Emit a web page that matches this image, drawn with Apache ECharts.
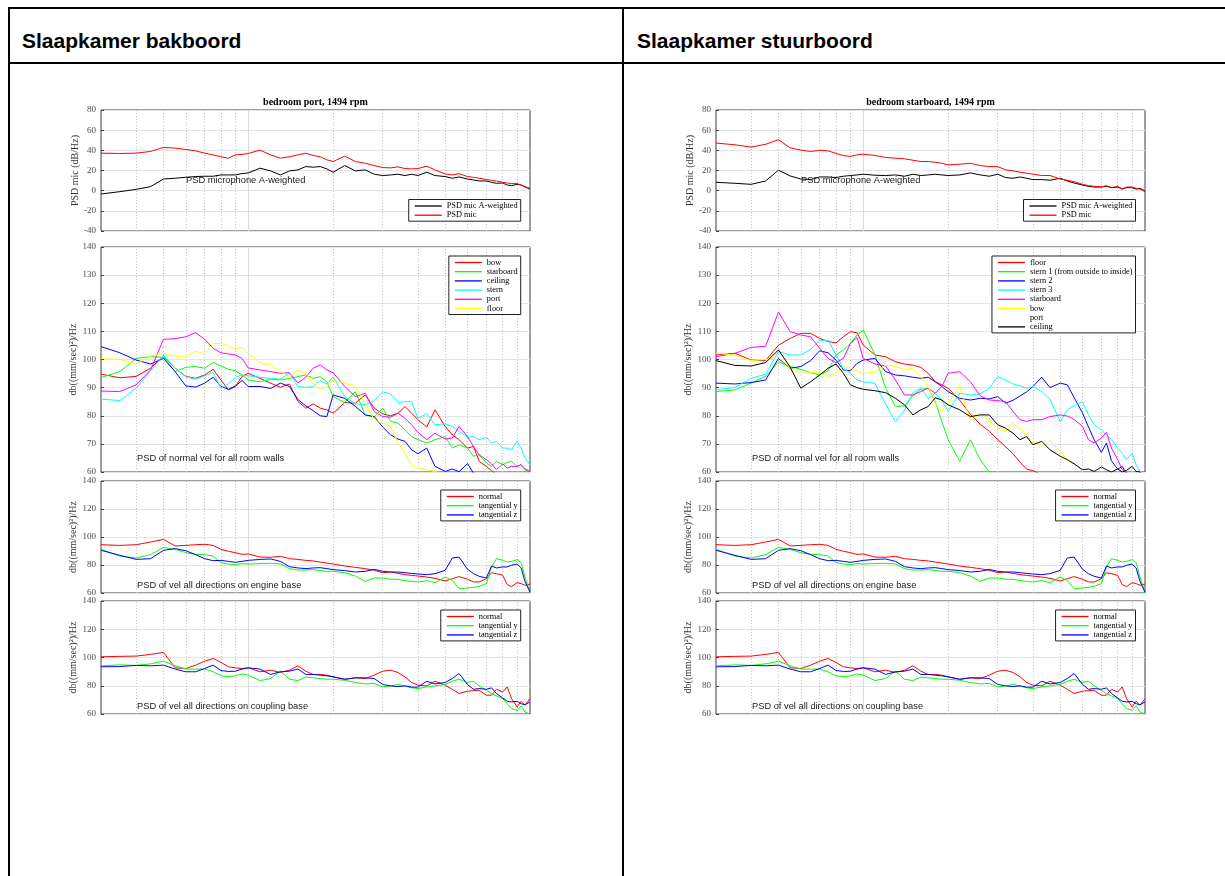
<!DOCTYPE html>
<html>
<head>
<meta charset="utf-8">
<title>Slaapkamer PSD</title>
<script src="https://cdn.jsdelivr.net/npm/echarts@6/dist/echarts.min.js"></script>
<style>
  body { margin: 0; background: #fff; }
  .page { position: relative; width: 1225px; height: 876px; overflow: hidden; background: #fff; }
  .rule { position: absolute; background: #000; }
  .head { position: absolute; font: bold 21px "Liberation Sans", Arial, sans-serif; color: #000; line-height: 24px; }
  #chart { position: absolute; left: 0; top: 0; width: 1225px; height: 876px; }
</style>
</head>
<body>
<div class="page">
  <div class="rule" style="left:8px;top:7px;width:1217px;height:2px"></div>
  <div class="rule" style="left:8px;top:62px;width:1217px;height:2px"></div>
  <div class="rule" style="left:8px;top:7px;width:2px;height:869px"></div>
  <div class="rule" style="left:622px;top:7px;width:2px;height:869px"></div>
  <div class="head" style="left:22px;top:29px">Slaapkamer bakboord</div>
  <div class="head" style="left:637px;top:29px">Slaapkamer stuurboord</div>
  <div id="chart"></div>
</div>
<script>
// frequencies the curves were read at (log x axis, 3 .. 100)
var freq = [3, 3.5, 4, 4.5, 5, 5.5, 6, 6.5, 7, 7.5, 8, 8.5, 9, 9.5, 10,
  11, 12, 13, 14, 15, 16, 17, 18, 19, 20,
  22, 24, 26, 28, 30, 32, 34, 36, 38, 40,
  43, 46, 50, 53, 56, 60, 63, 66, 70, 73, 76, 80, 83, 86, 90, 93, 96, 100];

// minor/major grid positions on the log axis
var gridFreq = [4, 5, 6, 7, 8, 9, 10, 20, 30, 40, 50, 60, 70, 80, 90];

// ---- bedroom port, microphone
var portMicA = [-3.3, -1, 1.3, 4, 11.6, 12.3, 13.3, 14, 14.3, 14.3, 15.6, 15.6, 15.6, 17, 17.6,
  22.3, 19.6, 15.6, 19.6, 20.6, 23.9, 23.3, 23.9, 21.6, 18.3,
  24.9, 19.6, 20.6, 16.3, 15, 15.6, 16.3, 15, 16.3, 15,
  18.3, 15, 14, 12.3, 13.6, 11.6, 10.6, 9.6, 9.6, 8.3, 7.3, 7.6, 5.6, 5, 6.3, 5.6, 3.6, 1.6];
var portMic = [37.2, 36.9, 37.2, 38.9, 42.9, 42.2, 40.9, 39.5, 37.2, 35.5, 33.6, 32.2, 35.5, 35.9, 36.9,
  40.2, 35.5, 32.2, 33.6, 35.5, 37.2, 34.9, 33.6, 30.6, 28.9,
  34.2, 28.9, 27.2, 24.9, 22.9, 22.6, 23.6, 21.9, 21.6, 21.9,
  24.3, 20.6, 16.6, 15.6, 16.9, 14, 13.3, 12.3, 11, 10.3, 9.6, 8.3, 7.6, 7, 7, 5.6, 4, 2.3];

// ---- bedroom starboard, microphone
var stbMicA = [8.3, 7.3, 6.3, 9.6, 20.3, 14.6, 11.6, 11, 13.6, 13.6, 13, 14.3, 15, 15.6, 16.3,
  15.3, 15, 15.6, 14.3, 16.3, 15, 15.6, 16.3, 15.6, 15,
  15.6, 17.6, 15.6, 14.3, 16.3, 13, 12.3, 13.6, 12.3, 11,
  11, 10.3, 12.3, 9.6, 7.6, 5.6, 4.3, 3.6, 3.6, 4.3, 3, 3.6, 1.6, 3, 3, 1.6, 2.3, -0.3];
var stbMic = [47.2, 45.5, 43.2, 46, 50.5, 42.5, 40.2, 38.9, 39.9, 39.5, 36.9, 34.9, 33.9, 35.5, 36.2,
  34.9, 32.9, 32.2, 31.6, 30.2, 28.9, 28.9, 28.2, 27.2, 25.6,
  26.2, 27.2, 24.9, 23.9, 23.9, 20.6, 19.6, 18.3, 17.3, 16.3,
  15, 15, 11.6, 10.3, 9, 6.3, 5, 4.3, 3.6, 5, 3, 4.3, 1.6, 3.6, 3.6, 2.3, 1.6, -1];

// ---- port room walls
var portBow = [94.8, 93.5, 94, 96.9, 101.3, 96.9, 94, 93.3, 94.5, 96.5, 92.7, 89.2, 90.4, 94, 95.1,
  93.3, 91.6, 90.1, 91.3, 85.1, 82.7, 84.2, 82.7, 82.1, 80.9,
  84.7, 84.5, 87.4, 82.7, 80.7, 80, 80.9, 83.3, 80.9, 78.6,
  76, 82.1, 76.2, 73.2, 71.5, 68.5, 69.1, 63.8, 62, 60.5, 59, 57, 56, 57, 56, 57, 56, 57];
var portStarboard = [93.6, 95.7, 100.4, 101, 100.8, 95.7, 97.2, 97.5, 96.9, 98.9, 97.7, 96.5, 96, 94.5, 92.7,
  92.1, 93, 92.7, 93.3, 93.9, 94.5, 93.3, 93.9, 92.1, 86.8,
  84.7, 88.6, 80.3, 79.5, 82.7, 78, 77.4, 75, 72.6, 71.5,
  70.3, 71.5, 72.6, 68.5, 69.7, 68.5, 65.6, 66.1, 63.2, 62, 63.8, 62.6, 63.4, 63.8, 62, 62.6, 60.8, 59.9];
var portCeiling = [104.6, 102.4, 99.8, 98.4, 100.4, 95.7, 90.6, 90.2, 91.6, 93.7, 90.4, 89.4, 90.6, 92.5, 90.4,
  90.4, 89.7, 91.6, 90.4, 85.8, 83.5, 81.8, 80, 79.7, 87.4,
  86.2, 83.3, 80.3, 79.7, 76, 73.2, 71.7, 70.9, 67.9, 66.5,
  68.5, 62, 60.2, 61.1, 60.1, 63, 59.6, 59, 58, 57, 58, 57, 56, 57, 56, 57, 56, 57];
var portStern = [85.9, 85.4, 89.8, 96, 101.5, 96.9, 93.9, 93, 94.2, 95.4, 89.8, 91.3, 93.7, 94.5, 94.2,
  93.7, 93.3, 93, 95.1, 90.4, 90.1, 90.4, 92.5, 91.3, 93.9,
  86.8, 84.2, 83.9, 85.4, 88.5, 87.8, 84.7, 85, 85, 79.1,
  80.7, 76.8, 77.1, 76.2, 74.4, 72.4, 72.6, 71.5, 72.4, 70.3, 70.9, 68.5, 68.5, 67.9, 70.9, 68.5, 65, 62.6];
var portPort = [88.8, 88.6, 91, 96.3, 107.2, 107.4, 108.1, 109.5, 107.2, 104, 102.4, 102, 101.6, 100.4, 97,
  96.3, 95.7, 95.1, 95.3, 91.6, 93.7, 96.9, 98.1, 96.3, 95.3,
  90.4, 86.8, 88, 81.5, 79.7, 79.5, 80.9, 79.1, 76.8, 74.1,
  71.5, 73.8, 71.7, 72.1, 76.2, 72.6, 69.1, 66.1, 64.4, 62.9, 60.8, 62.9, 61.4, 62, 62, 62.6, 61.1, 60.2];
var portFloor = [100.4, 100, 98.4, 101.2, 102.2, 101.2, 100.8, 102.9, 102, 105.7, 105.7, 104.8, 103.6, 104.3, 102.2,
  98.9, 98, 95.7, 93.9, 96.3, 95.1, 91, 89.4, 90.4, 92.7,
  91.6, 90.4, 84.5, 78.6, 77.4, 76.2, 70.3, 66.7, 62.2, 61.4,
  60.8, 60.2, 59, 58, 57, 56, 57, 56, 57, 56, 57, 56, 57, 56, 57, 56, 57, 56];

// ---- starboard room walls
var stbFloor = [101.6, 102.2, 99.8, 99.6, 105.1, 107.5, 109.3, 109.3, 107.5, 106.4, 105.9, 108.1, 109.9, 109.5, 105.1,
  101.6, 101, 99.2, 98.4, 98, 97.2, 95.1, 92.1, 91, 89.8,
  85.5, 80.5, 77, 74.5, 71.5, 69, 66.5, 63.5, 61, 60.5,
  59, 58, 57, 56, 57, 56, 57, 56, 57, 56, 57, 56, 57, 56, 57, 56, 57, 56];
var stbStern1 = [88.6, 89.2, 91.6, 94, 99.2, 97.5, 96.5, 95.3, 94.5, 96, 101.6, 103.4, 105.7, 108.7, 110.5,
  101.6, 89.8, 83.3, 83.5, 87.1, 89.4, 89.8, 85.1, 78, 71.5,
  63.8, 71.5, 64.4, 60, 57, 56, 57, 56, 57, 56,
  57, 56, 57, 56, 57, 56, 57, 56, 57, 56, 57, 56, 57, 56, 57, 56, 57, 56];
var stbStern2 = [91.6, 91.3, 91.8, 92.7, 100.4, 96.9, 97.5, 99.6, 103.1, 102.4, 99.8, 96.3, 96, 98.6, 99.8,
  100.4, 95.7, 94.5, 94.2, 93.7, 93.3, 93.7, 92.1, 90.4, 88.6,
  86.2, 85.6, 86.2, 86, 86.8, 84.5, 85.5, 87, 88.5, 90.4,
  93.7, 90, 91.6, 91, 86.5, 81, 76, 71.5, 67, 70.3, 64, 61, 62, 59.5, 57, 56, 57, 56];
var stbStern3 = [89.2, 90.1, 93.3, 94.8, 102.8, 101.6, 101.6, 103.6, 106.7, 106.9, 101.6, 96.9, 95.1, 92.7, 92.1,
  91.5, 84.2, 77.8, 82, 88.2, 89.8, 86.2, 88, 85.6, 81.5,
  88, 87.4, 87.8, 89.8, 93.9, 92.7, 91.3, 90.6, 89.8, 90.4,
  88.6, 85.9, 77.8, 82.1, 83.5, 85, 80.3, 76.8, 75, 73.2, 71.5, 68.5, 66.7, 64.4, 66.7, 62.6, 60.2, 57];
var stbStarboard = [101, 102.2, 104.3, 104.7, 116.9, 109.9, 108.7, 108.1, 104, 100.4, 98.9, 100.4, 105.7, 107.8, 100.4,
  98.4, 97.7, 92.7, 87.4, 87.4, 88.6, 89.8, 88, 90.4, 95.1,
  95.7, 92.1, 87.1, 85.6, 85.4, 85, 81.5, 78.6, 78, 78.6,
  78.6, 79.7, 80.3, 79.9, 78.7, 76.2, 71.5, 70.3, 72.1, 74.1, 68.5, 64.4, 60.8, 60, 57, 56, 57, 56];
var stbBow = [102.2, 101.6, 99.6, 100, 100.8, 96.9, 94.9, 95.3, 95.3, 93.9, 95.3, 97.5, 96.9, 96, 94.9,
  95.7, 98, 97.5, 96.5, 96.9, 93.9, 90.4, 84.5, 81.5, 84.5,
  90.4, 78.4, 80.9, 78, 75.6, 74.4, 77.4, 75.6, 73.2, 70.3,
  69.1, 71.1, 67.3, 64.4, 63.2, 60.2, 57, 56, 57, 56, 57, 56, 57, 56, 57, 56, 57, 56];
var stbCeiling = [99.6, 97.9, 97.7, 98.9, 103.4, 97.3, 89.8, 92.1, 94.5, 96.9, 98.4, 95.1, 91, 90, 89.4,
  88.9, 88.2, 86.2, 83.9, 80.3, 82.1, 83.3, 86.4, 85.6, 83.9,
  82.1, 79.7, 80.3, 80.3, 76.8, 75.6, 73.8, 71.5, 72.6, 69.7,
  70.9, 67.9, 65.6, 64.4, 62.9, 60.8, 61.1, 60.2, 61.8, 60.8, 60, 61.1, 60, 60.6, 62, 60.2, 60, 57];

// ---- engine base (same in both columns)
var engNormal = [94.5, 94, 94.5, 96.4, 98.3, 93.6, 94, 94.5, 94.8, 94, 91.2, 89.8, 88.8, 87.6, 87.9,
  85.7, 85.5, 86.2, 84.5, 84, 83.3, 82.9, 82.1, 81.4, 80.7,
  79.3, 78.3, 77.4, 76.2, 74.5, 75, 74, 73.1, 72.6, 72.1,
  71.4, 70.5, 68.6, 70.2, 71.7, 69.8, 67.9, 67.9, 70.2, 74.5, 73.8, 72.6, 66, 64.5, 67.4, 66.7, 65.5, 66.4];
var engTanY = [91.2, 86.4, 85, 87.4, 92.6, 91.2, 88.8, 87.6, 87.4, 86.4, 81.7, 80.7, 80.2, 81, 80.7,
  81, 81.2, 80.7, 77.4, 76.4, 76.4, 76.7, 76, 75.5, 75.5,
  74.5, 72.1, 68.3, 70.7, 70.7, 69.8, 69.8, 68.8, 68.3, 67.9,
  68.8, 67.4, 71.4, 69, 63.1, 63.6, 64, 64.8, 66.7, 78.6, 84.5, 83.3, 82.1, 82.6, 83.8, 81.7, 71.4, 60];
var engTanZ = [90.5, 86.9, 84, 84.5, 90.5, 91.7, 90.2, 87.4, 84.5, 83.1, 83.3, 82.6, 81.9, 82.6, 83.3,
  84, 84.3, 82.6, 78.8, 77.9, 77.4, 77.9, 78.1, 77.4, 76.7,
  76, 75, 75.5, 76.9, 75.5, 75, 75, 74.5, 74, 73.6,
  73.1, 73.8, 76.2, 85, 85.7, 76.9, 73.8, 71.9, 70.7, 79.3, 77.9, 78.6, 78.6, 79.8, 80.7, 77.9, 68.3, 60.7];

// ---- coupling base (same in both columns)
var cplNormal = [100.5, 100.8, 101, 102.2, 103.6, 92.7, 92.2, 94.6, 97.4, 99.3, 96.5, 93.4, 92.7, 92.2, 92.7,
  89.9, 91, 89.4, 91, 94.1, 90.3, 88, 88, 87.5, 86.3,
  84.6, 85.6, 85.1, 87.5, 90.3, 91, 89.4, 86.3, 82.3, 80.4,
  79.9, 83.2, 80.4, 77.5, 74.5, 76.1, 76.6, 76.8, 73.3, 73.3, 77.5, 75.6, 79.2, 70.9, 65, 69, 66.2, 70.9];
var cplTanY = [94.1, 94.8, 94.4, 95.5, 97.4, 94.1, 91.8, 91.8, 91.8, 89.9, 87, 86.5, 87, 88.4, 87.5,
  83.7, 85.1, 90.3, 84.6, 83.7, 86.1, 85.6, 85.1, 84.6, 84.6,
  83.9, 82.3, 81.3, 81.6, 79.2, 79.9, 80.9, 79.9, 78.5, 78,
  79.2, 79.9, 80.9, 83.2, 84.6, 82.3, 83.2, 79.9, 76.8, 74.5, 72.8, 70.9, 67.3, 63.8, 62.6, 65.7, 61.4, 60];
var cplTanZ = [93.4, 93.6, 94.4, 94.1, 94.6, 91.8, 89.9, 89.9, 92.2, 94.6, 90.8, 90.1, 90.3, 91.8, 92.7,
  91.8, 88, 89.9, 90.3, 91.8, 88, 88, 87.5, 87, 86.3,
  84.6, 85.6, 85.6, 85.1, 80.9, 79.9, 79.4, 79.9, 79, 79,
  83.2, 81.3, 82.3, 85.1, 88.7, 80.9, 77.5, 78, 77.5, 78.5, 74.5, 71.4, 69, 68.5, 69, 67.3, 66.6, 68.5];

var RED = '#ff0000', GREEN = '#00ff00', BLUE = '#0000ff', CYAN = '#00ffff',
    MAGENTA = '#ff00ff', YELLOW = '#ffff00', BLACK = '#000000';

// one entry per axes, left column first
var panels = [
  { col: 0, row: 0, title: 'bedroom port, 1494 rpm', note: 'PSD microphone A-weighted',
    lines: [['PSD mic A-weighted', BLACK, portMicA], ['PSD mic', RED, portMic]] },
  { col: 0, row: 1, note: 'PSD of normal vel for all room walls',
    lines: [['bow', RED, portBow], ['starboard', GREEN, portStarboard], ['ceiling', BLUE, portCeiling],
            ['stern', CYAN, portStern], ['port', MAGENTA, portPort], ['floor', YELLOW, portFloor]] },
  { col: 0, row: 2, note: 'PSD of vel all directions on engine base',
    lines: [['normal', RED, engNormal], ['tangential y', GREEN, engTanY], ['tangential z', BLUE, engTanZ]] },
  { col: 0, row: 3, note: 'PSD of vel all directions on coupling base',
    lines: [['normal', RED, cplNormal], ['tangential y', GREEN, cplTanY], ['tangential z', BLUE, cplTanZ]] },
  { col: 1, row: 0, title: 'bedroom starboard, 1494 rpm', note: 'PSD microphone A-weighted',
    lines: [['PSD mic A-weighted', BLACK, stbMicA], ['PSD mic', RED, stbMic]] },
  { col: 1, row: 1, note: 'PSD of normal vel for all room walls',
    lines: [['floor', RED, stbFloor], ['stern 1 (from outside to inside)', GREEN, stbStern1],
            ['stern 2', BLUE, stbStern2], ['stern 3', CYAN, stbStern3], ['starboard', MAGENTA, stbStarboard],
            ['bow', YELLOW, stbBow], ['port', 'rgba(0,0,0,0)', []], ['ceiling', BLACK, stbCeiling]] },
  { col: 1, row: 2, note: 'PSD of vel all directions on engine base',
    lines: [['normal', RED, engNormal], ['tangential y', GREEN, engTanY], ['tangential z', BLUE, engTanZ]] },
  { col: 1, row: 3, note: 'PSD of vel all directions on coupling base',
    lines: [['normal', RED, cplNormal], ['tangential y', GREEN, cplTanY], ['tangential z', BLUE, cplTanZ]] }
];

// layout
var colLeft = [101, 716];
var colWidth = 429;
var rowBox = [{ top: 110, height: 121 }, { top: 247, height: 225 }, { top: 481, height: 112 }, { top: 601, height: 113 }];
var rowAxis = [
  { min: -40, max: 80, interval: 20, name: 'PSD mic (dB/Hz)' },
  { min: 60, max: 140, interval: 10, name: 'db((mm/sec)\u00b2)/Hz' },
  { min: 60, max: 140, interval: 20, name: 'db((mm/sec)\u00b2)/Hz' },
  { min: 60, max: 140, interval: 20, name: 'db((mm/sec)\u00b2)/Hz' }
];
var legendRight = [520.7, 1135.5];
var legendTop = [199.5, 256, 490, 610];
var noteDx = [85, 36, 36, 36];
var noteY = [180.5, 458.3, 585.7, 706];

var SERIF = '"Liberation Serif", "Times New Roman", serif';
var SANS = '"Liberation Sans", Arial, sans-serif';

var grid = [], xAxis = [], yAxis = [], series = [], legend = [], texts = [];

panels.forEach(function (p, gi) {
  var box = rowBox[p.row], ax = rowAxis[p.row], left = colLeft[p.col];
  grid.push({ left: left, top: box.top, width: colWidth, height: box.height,
    show: true, borderColor: '#3c3c3c', borderWidth: 1 });

  xAxis.push({ type: 'log', logBase: 10, gridIndex: gi, min: 3, max: 100,
    axisLine: { show: false }, axisTick: { show: false }, axisLabel: { show: false }, splitLine: { show: false } });

  yAxis.push({ type: 'value', gridIndex: gi, position: 'left', min: ax.min, max: ax.max, interval: ax.interval,
    name: ax.name, nameLocation: 'middle', nameRotate: 90, nameGap: 21,
    nameTextStyle: { fontFamily: SERIF, fontSize: 10, color: '#333' },
    axisLine: { show: false },
    axisTick: { show: true, inside: true, length: 3, lineStyle: { color: '#444' } },
    axisLabel: { fontFamily: SERIF, fontSize: 9, color: '#4a4a4a', margin: 5 },
    splitLine: { show: true, lineStyle: { color: '#e4e4e4', width: 1 } } });

  // vertical log grid lines
  series.push({ type: 'line', name: 'grid#' + gi, xAxisIndex: gi, yAxisIndex: gi, data: [],
    silent: true, symbol: 'none', animation: false,
    markLine: { silent: true, symbol: ['none', 'none'], animation: false, z: 1,
      label: { show: false },
      lineStyle: { color: '#c4c4c4', type: [1, 2], width: 1 },
      emphasis: { disabled: true },
      data: gridFreq.map(function (f) {
        return f === 10 ? { xAxis: f, lineStyle: { type: 'solid', color: '#dadada' } } : { xAxis: f };
      }) } });

  var names = [];
  p.lines.forEach(function (l) {
    var name = l[0] + '#' + gi;
    names.push(name);
    series.push({ type: 'line', name: name, xAxisIndex: gi, yAxisIndex: gi,
      data: l[2].map(function (v, i) { return [freq[i], v]; }),
      symbol: 'none', clip: true, animation: false, z: 3,
      lineStyle: { color: l[1], width: 1 }, itemStyle: { color: l[1] },
      emphasis: { disabled: true } });
  });

  legend.push({ orient: 'vertical', right: 1225 - legendRight[p.col], top: legendTop[p.row],
    data: names, selectedMode: false, icon: 'rect',
    formatter: function (n) { return n.split('#')[0]; },
    backgroundColor: '#fff', borderColor: '#222', borderWidth: 1, borderRadius: 0,
    padding: [2.5, 3, 2, 6], itemGap: 1.2, itemWidth: 27, itemHeight: 1.3,
    textStyle: { fontFamily: SERIF, fontSize: 8.3, color: '#000' }, z: 10 });

  if (p.title) {
    texts.push({ type: 'text', x: left + colWidth / 2, y: 102.3, z: 20, silent: true,
      style: { text: p.title, fill: '#000', fontFamily: SERIF, fontWeight: 'bold', fontSize: 10,
        align: 'center', verticalAlign: 'middle' } });
  }
  texts.push({ type: 'text', x: left + noteDx[p.row], y: noteY[p.row], z: 20, silent: true,
    style: { text: p.note, fill: '#1a1a1a', fontFamily: SANS, fontSize: 9.3,
      align: 'left', verticalAlign: 'middle' } });
});

var chartDom = document.getElementById('chart');
var myChart = echarts.init(chartDom, null, { renderer: 'canvas' });
var option;

option = {
  animation: false,
  grid: grid,
  xAxis: xAxis,
  yAxis: yAxis,
  legend: legend,
  graphic: { elements: texts },
  series: series
};

option && myChart.setOption(option);
</script>
</body>
</html>
